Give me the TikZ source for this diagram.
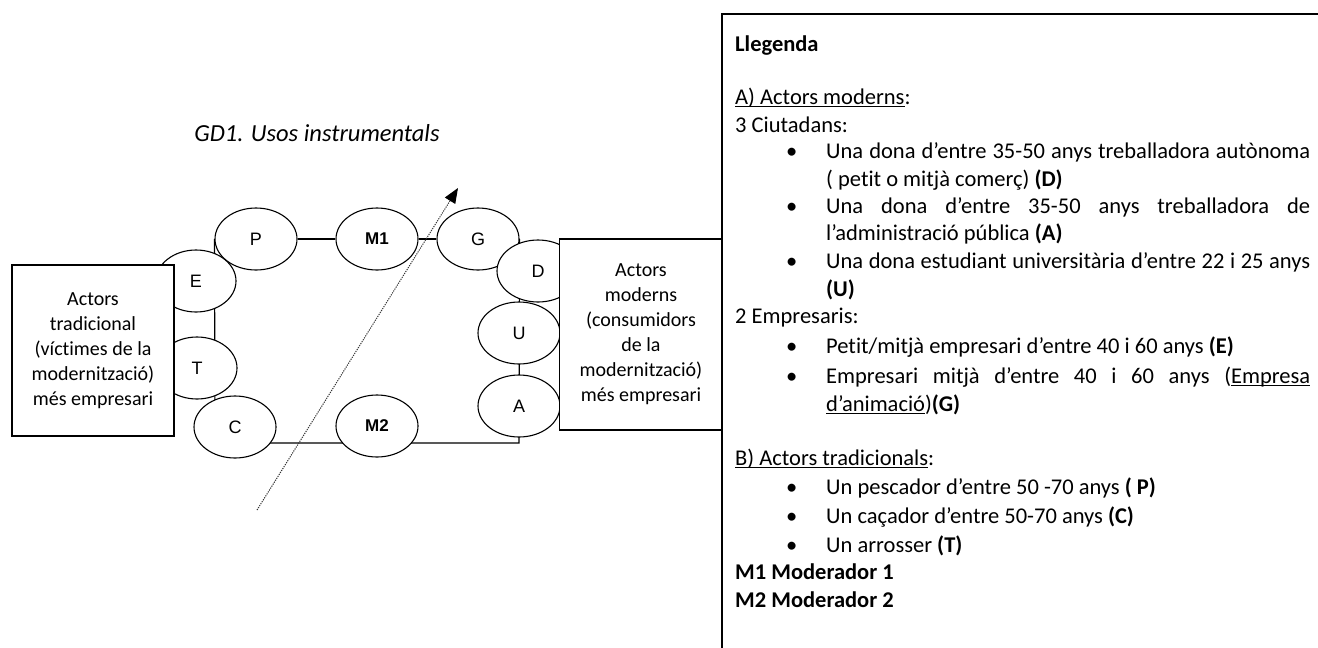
\documentclass[tikz,border=0pt]{standalone}
\usepackage{fontspec}
\setmainfont{Carlito}[Ligatures=NoCommon]
\newfontfamily\arialfont{Liberation Sans}
\usetikzlibrary{arrows.meta,backgrounds,shapes.geometric}
\newcommand\myul[1]{\setbox0\hbox{#1}\rlap{\rule[-3pt]{\wd0}{1pt}}\box0}
\begin{document}
\begin{tikzpicture}[x=1pt,y=-1pt,
  actor/.style={ellipse, draw, line width=1.1pt, fill=white, minimum width=82pt,
    minimum height=62pt, inner sep=0pt, font=\arialfont\fontsize{18}{20}\selectfont},
  modr/.style={actor, font=\arialfont\bfseries\fontsize{17}{20}\selectfont},
  group/.style={draw, line width=1.3pt, fill=white, inner sep=0pt,
    font=\fontsize{20}{25}\selectfont},
  link/.style={line width=1.2pt},
  frame/.style={line width=1.4pt},
  flow/.style={line width=1pt, black!80, dash pattern=on 1.2pt off 1.1pt,
    -{Triangle[length=15pt,width=12pt,black]}},
  lg/.style={anchor=base west, inner sep=0pt, font=\fontsize{22.5}{27}\selectfont},
  ttl/.style={inner sep=0pt, font=\itshape\fontsize{24.5}{29}\selectfont}
]
\useasboundingbox (0,0) rectangle (1318,648);

% title
\node[ttl] (title) at (317,133) {GD1. Usos instrumentals};

% actors
\node[actor, minimum width=80pt] (E) at (196,281) {E};
\node[actor] (P) at (256,239) {P};
\node[modr] (M1) at (377,239) {M1};
\node[actor] (G) at (478,239) {G};
\node[actor, minimum width=80pt] (T) at (197,368) {T};
\node[actor] (C) at (235,427) {C};
\node[modr] (M2) at (377,426) {M2};
\node[actor] (D) at (538,271) {D};
\node[actor] (U) at (519,333) {U};
\node[actor] (A) at (519,406) {A};

% loop connectors behind the actors
\coordinate (lb) at (215,443);
\coordinate (rb) at (519,443);
\begin{scope}[on background layer]
  \draw[link] (P.west) -- (lb) -- (rb) -- (G.east);
  \draw[link] (P) -- (M1) -- (G);
\end{scope}

% group boxes
\node[group, minimum width=162pt, minimum height=171pt] (trad) at (93,350.5)
  {\raisebox{4pt}{\parbox{155pt}{\centering Actors\\tradicional\\(víctimes de la\\modernització)\\més empresari}}};
\node[group, minimum width=163pt, minimum height=191pt] (mod) at (641,334.5)
  {\raisebox{9pt}{\parbox{155pt}{\centering Actors\\moderns\\(consumidors\\de la\\modernització)\\més empresari}}};

% dotted arrow
\coordinate (fs) at (257,510);
\coordinate (fe) at (458,188);
\draw[flow] (fs) -- (fe);

% legend frame
\coordinate (lgr) at (1322,14);
\coordinate (lgt) at (722,14);
\coordinate (lgb) at (722,652);
\draw[frame] (lgr) -- (lgt) -- (lgb);

% legend text
\node[lg] (l1) at (735,51) {\textbf{Llegenda}};
\node[lg] (l2) at (735,104) {\myul{A) Actors moderns}:};
\node[lg] (l3) at (735,132) {3 Ciutadans:};
\node[lg] (b1) at (786,158) {\textbullet};
\node[lg] (t1) at (826,158) {\makebox[484pt][s]{Una dona d’entre 35-50 anys treballadora autònoma}};
\node[lg] (t1b) at (826,186) {( petit o mitjà comerç) \textbf{(D)}};
\node[lg] (b2) at (786,213) {\textbullet};
\node[lg] (t2) at (826,213) {\makebox[484pt][s]{Una dona d’entre 35-50 anys treballadora de}};
\node[lg] (t2b) at (826,240) {l’administració pública \textbf{(A)}};
\node[lg] (b3) at (786,268) {\textbullet};
\node[lg] (t3) at (826,268) {\makebox[484pt][s]{Una dona estudiant universitària d’entre 22 i 25 anys}};
\node[lg] (t3b) at (826,296) {\textbf{(U)}};
\node[lg] (l4) at (735,323) {2 Empresaris:};
\node[lg] (b4) at (786,353) {\textbullet};
\node[lg] (t4) at (826,353) {Petit/mitjà empresari d’entre 40 i 60 anys \textbf{(E)}};
\node[lg] (b5) at (786,383) {\textbullet};
\node[lg] (t5) at (826,383) {\makebox[484pt][s]{Empresari mitjà d’entre 40 i 60 anys (\myul{Empresa}}};
\node[lg] (t5b) at (826,411) {\myul{d’animació})\textbf{(G)}};
\node[lg] (l5) at (735,465) {\myul{B) Actors tradicionals}:};
\node[lg] (b6) at (786,494) {\textbullet};
\node[lg] (t6) at (826,494) {Un pescador d’entre 50 -70 anys \textbf{( P)}};
\node[lg] (b7) at (786,523) {\textbullet};
\node[lg] (t7) at (826,523) {Un caçador d’entre 50-70 anys \textbf{(C)}};
\node[lg] (b8) at (786,552) {\textbullet};
\node[lg] (t8) at (826,552) {Un arrosser \textbf{(T)}};
\node[lg] (l6) at (735,579) {\textbf{M1 Moderador 1}};
\node[lg] (l7) at (735,607) {\textbf{M2 Moderador 2}};
\end{tikzpicture}
\end{document}
